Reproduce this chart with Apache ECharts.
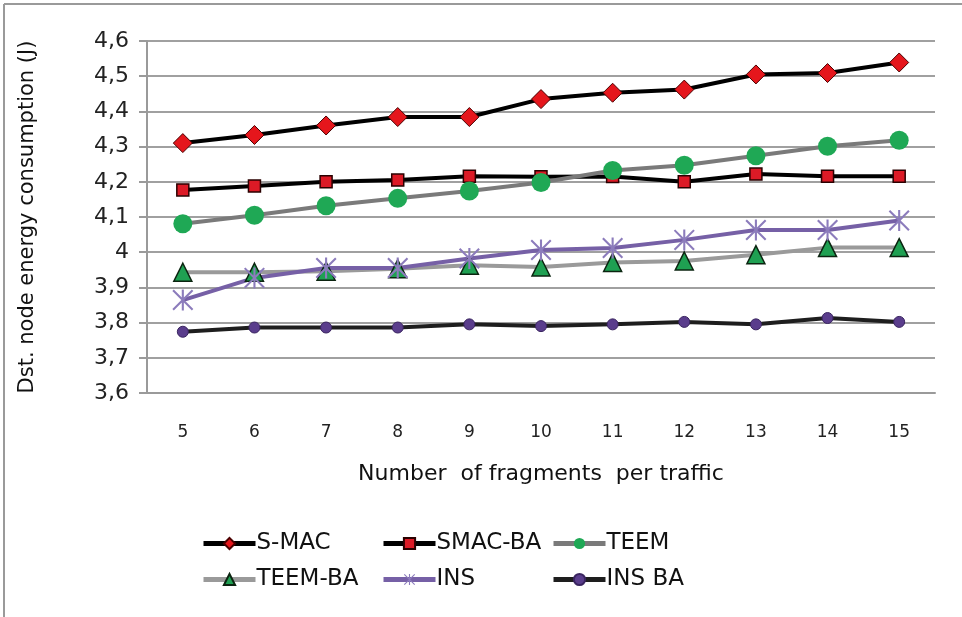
<!DOCTYPE html>
<html lang="en">
<head>
    <meta charset="UTF-8">
    <title>Dst. node energy consumption</title>
    <style>
        html, body { margin: 0; padding: 0; background: #fff; }
        #chart { width: 962px; height: 617px; }
    </style>
</head>
<body>
<div id="chart"></div>
<script src="https://cdn.jsdelivr.net/npm/echarts@6/dist/echarts.min.js"></script>
<script type="text/javascript">
    // data
    var fragments = ['5', '6', '7', '8', '9', '10', '11', '12', '13', '14', '15'];
    var yTicks = [3.6, 4.6, 0.1]; // min, max, step
    var smac = [4.31, 4.333, 4.36, 4.384, 4.384, 4.435, 4.453, 4.462, 4.505, 4.509, 4.539];
    var smacBa = [4.177, 4.188, 4.2, 4.205, 4.216, 4.214, 4.215, 4.2, 4.222, 4.216, 4.216];
    var teem = [4.081, 4.105, 4.132, 4.153, 4.174, 4.198, 4.232, 4.247, 4.274, 4.301, 4.318];
    var teemBa = [3.943, 3.943, 3.946, 3.953, 3.963, 3.958, 3.971, 3.975, 3.993, 4.013, 4.013];
    var ins = [3.864, 3.927, 3.955, 3.955, 3.982, 4.006, 4.012, 4.035, 4.063, 4.063, 4.09];
    var insBa = [3.774, 3.786, 3.786, 3.786, 3.795, 3.79, 3.795, 3.802, 3.795, 3.813, 3.802];

    var font = 'DejaVu Sans';
    var asterisk = 'path://M9,0 L11,0 L11,20 L9,20 Z M0,1.4 L1.4,0 L20,18.6 L18.6,20 Z M18.6,0 L20,1.4 L1.4,20 L0,18.6 Z';

    var myChart = echarts.init(document.getElementById('chart'));

    function legendAt(name, left, top) {
        return {
            data: [name],
            left: left,
            top: top,
            itemWidth: 52,
            itemHeight: 14,
            itemGap: 0,
            lineStyle: { width: 5 },
            textStyle: { fontFamily: font, fontSize: 23, color: '#111', padding: [0, 0, 0, -4] }
        };
    }

    var option = {
        backgroundColor: '#fff',
        animation: false,
        graphic: [
            { type: 'line', shape: { x1: 4, y1: 4, x2: 962, y2: 4 }, style: { stroke: '#9a9a9a', lineWidth: 2 } },
            { type: 'line', shape: { x1: 4, y1: 4, x2: 4, y2: 617 }, style: { stroke: '#9a9a9a', lineWidth: 2 } }
        ],
        grid: { left: 147, right: 27, top: 41, bottom: 224 },
        legend: [
            legendAt('S-MAC', 196, 527),
            legendAt('SMAC-BA', 376, 527),
            legendAt('TEEM', 546, 527),
            legendAt('TEEM-BA', 196, 563),
            legendAt('INS', 376, 563),
            legendAt('INS BA', 546, 563)
        ],
        xAxis: {
            type: 'category',
            data: fragments,
            boundaryGap: true,
            name: 'Number  of fragments  per traffic',
            nameLocation: 'middle',
            nameGap: 70,
            nameTextStyle: { fontFamily: font, fontSize: 22, color: '#111' },
            axisLine: { lineStyle: { color: '#9a9a9a', width: 2 } },
            axisTick: { show: false },
            axisLabel: { fontFamily: font, fontSize: 17, color: '#222', margin: 31 }
        },
        yAxis: {
            type: 'value',
            min: yTicks[0],
            max: yTicks[1],
            interval: yTicks[2],
            name: 'Dst. node energy consumption (J)',
            nameLocation: 'middle',
            nameGap: 109,
            nameTextStyle: { fontFamily: font, fontSize: 21, color: '#111' },
            axisLine: { show: true, lineStyle: { color: '#9a9a9a', width: 2 } },
            axisTick: { show: true, length: 8, lineStyle: { color: '#9a9a9a', width: 2 } },
            splitLine: { lineStyle: { color: '#a0a0a0', width: 2 } },
            axisLabel: {
                fontFamily: font, fontSize: 22, color: '#222', margin: 18,
                formatter: function (v) { return String(Math.round(v * 10) / 10).replace('.', ','); }
            }
        },
        series: [
            {
                name: 'S-MAC', type: 'line', data: smac,
                symbol: 'diamond', symbolSize: 19,
                lineStyle: { color: '#000', width: 4 },
                itemStyle: { color: '#e5161c', borderColor: '#4a0000', borderWidth: 1 }
            },
            {
                name: 'SMAC-BA', type: 'line', data: smacBa,
                symbol: 'rect', symbolSize: 12,
                lineStyle: { color: '#000', width: 4 },
                itemStyle: { color: '#dc1a26', borderColor: '#2a0000', borderWidth: 1.5 }
            },
            {
                name: 'TEEM', type: 'line', data: teem,
                symbol: 'circle', symbolSize: 19,
                lineStyle: { color: '#7a7a7a', width: 4 },
                itemStyle: { color: '#1fa855', borderColor: '#1fa855', borderWidth: 0 }
            },
            {
                name: 'TEEM-BA', type: 'line', data: teemBa,
                symbol: 'triangle', symbolSize: 18,
                lineStyle: { color: '#9a9a9a', width: 4 },
                itemStyle: { color: '#1fa052', borderColor: '#0b2410', borderWidth: 1.5 }
            },
            {
                name: 'INS', type: 'line', data: ins,
                symbol: asterisk, symbolSize: 21,
                lineStyle: { color: '#7660a6', width: 4 },
                itemStyle: { color: '#8c7cbc', borderWidth: 0 }
            },
            {
                name: 'INS BA', type: 'line', data: insBa,
                symbol: 'circle', symbolSize: 11,
                lineStyle: { color: '#1e1e1e', width: 4 },
                itemStyle: { color: '#5a3d8c', borderColor: '#3a2560', borderWidth: 1 }
            }
        ]
    };
    myChart.setOption(option);
</script>
</body>
</html>
